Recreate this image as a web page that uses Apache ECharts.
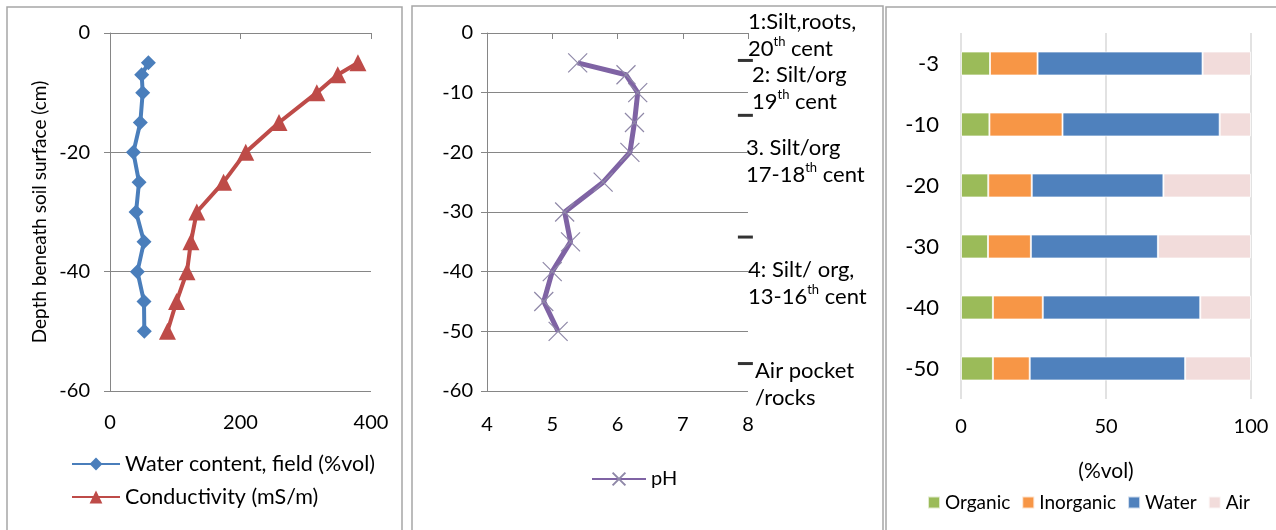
<!DOCTYPE html>
<html>
<head>
<meta charset="utf-8">
<script src="https://cdn.jsdelivr.net/npm/echarts@6/dist/echarts.min.js"></script>
<style>
  html, body { margin: 0; padding: 0; background: #fff; }
  #chart { width: 1276px; height: 530px; }
</style>
</head>
<body>
<div id="chart"></div>
<script>
// Soil profile measurements by depth (cm below surface)
const depths = [-5, -7, -10, -15, -20, -25, -30, -35, -40, -45, -50];
const waterContent = [58.8, 48.6, 50.1, 46.5, 35.8, 44.5, 39.9, 52.1, 42.0, 52.1, 52.6];
const conductivity = [380, 349, 317, 259, 208, 174, 133, 124, 118, 102, 88];
const pHValues = [5.39, 6.13, 6.31, 6.26, 6.19, 5.78, 5.19, 5.28, 5.00, 4.87, 5.09];

// Layer boundaries (cm) and layer descriptions
const layerBoundaries = [-4.6, -13.8, -34.2, -55.4];
const layerTexts = [
  '1:Silt,roots,\n20{s|th} cent',
  '2: Silt/org\n19{s|th} cent',
  '3. Silt/org\n17-18{s|th} cent',
  '4: Silt/ org,\n13-16{s|th} cent',
  'Air pocket\n/rocks'
];

// Volume composition of samples
const sampleDepths = ['-3', '-10', '-20', '-30', '-40', '-50'];
const organic = [10.0, 9.8, 9.4, 9.3, 11.0, 11.0];
const inorganic = [16.4, 25.2, 15.0, 14.8, 17.2, 12.7];
const water = [56.9, 54.2, 45.4, 43.8, 54.3, 53.6];
const air = [16.7, 10.8, 30.2, 32.1, 17.5, 22.7];

const FONT = 'Lato, "Open Sans", sans-serif';
const TXT = '#000';
const AXIS = '#868686';

const pairs = (xs) => xs.map((x, i) => [x, depths[i]]);

const chart = echarts.init(document.getElementById('chart'), null, { renderer: 'canvas' });

const depthAxis = (gridIndex, interval, margin) => ({
  type: 'value', gridIndex, min: -60, max: 0, interval,
  axisLine: { show: true, lineStyle: { color: AXIS, width: 1 } },
  axisTick: { show: true, inside: false, length: 6, lineStyle: { color: AXIS } },
  axisLabel: { color: TXT, fontFamily: FONT, fontSize: 20, margin },
  splitLine: { show: true, lineStyle: { color: AXIS, width: 1 } }
});

// Layer description texts beside the pH plot
const layerLeft = [748, 752, 746, 748, 755];
const layerTop = [8, 61, 134, 256, 357];
const graphics = [
  { type: 'rect', shape: { x: 7, y: 7, width: 395, height: 540 }, style: { fill: 'none', stroke: '#A6A6A6', lineWidth: 1.5 }, silent: true },
  { type: 'rect', shape: { x: 412, y: 6, width: 471, height: 540 }, style: { fill: 'none', stroke: '#A6A6A6', lineWidth: 1.5 }, silent: true },
  { type: 'rect', shape: { x: 886, y: 7, width: 400, height: 540 }, style: { fill: 'none', stroke: '#A6A6A6', lineWidth: 1.5 }, silent: true }
];
layerTexts.forEach((t, i) => {
  graphics.push({
    type: 'text', left: layerLeft[i], top: layerTop[i], silent: true,
    style: {
      text: t, fill: TXT, fontFamily: FONT, fontSize: 22, lineHeight: 27,
      rich: { s: { fontSize: 13, fontFamily: FONT, fill: TXT, verticalAlign: 'top', lineHeight: 20 } }
    }
  });
});

const option = {
  animation: false,
  backgroundColor: '#fff',
  textStyle: { fontFamily: FONT },
  grid: [
    { left: 110, top: 33, width: 261, height: 358 },
    { left: 487, top: 33, width: 261, height: 358 },
    { left: 961, top: 33, width: 290, height: 366 }
  ],
  xAxis: [
    {
      type: 'value', gridIndex: 0, min: 0, max: 400, interval: 200,
      axisLine: { show: true, lineStyle: { color: AXIS } },
      axisTick: { show: true, length: 6, lineStyle: { color: AXIS } },
      axisLabel: { color: TXT, fontFamily: FONT, fontSize: 20, margin: 22 },
      splitLine: { show: false }
    },
    {
      type: 'value', gridIndex: 1, min: 4, max: 8, interval: 1,
      axisLine: { show: true, lineStyle: { color: AXIS } },
      axisTick: { show: true, length: 6, lineStyle: { color: AXIS } },
      axisLabel: { color: TXT, fontFamily: FONT, fontSize: 20, margin: 24 },
      splitLine: { show: false }
    },
    {
      type: 'value', gridIndex: 2, min: 0, max: 100, interval: 50,
      name: '(%vol)', nameLocation: 'middle', nameGap: 62,
      nameTextStyle: { color: TXT, fontFamily: FONT, fontSize: 21 },
      axisLine: { show: false }, axisTick: { show: false },
      axisLabel: { color: TXT, fontFamily: FONT, fontSize: 20, margin: 18 },
      splitLine: { show: true, lineStyle: { color: '#D9D9D9', width: 1.5 } }
    }
  ],
  yAxis: [
    Object.assign(depthAxis(0, 20, 20), {
      name: 'Depth beneath soil surface (cm)', nameLocation: 'middle', nameGap: 61,
      nameTextStyle: { color: TXT, fontFamily: FONT, fontSize: 19 }
    }),
    depthAxis(1, 10, 14),
    {
      type: 'category', gridIndex: 2, data: sampleDepths, inverse: true,
      axisLine: { show: false }, axisTick: { show: false },
      axisLabel: { color: TXT, fontFamily: FONT, fontSize: 22, margin: 22 },
      splitLine: { show: false }
    }
  ],
  legend: [
    {
      orient: 'vertical', left: 66, top: 448, itemWidth: 48, itemHeight: 16, itemGap: 11,
      textStyle: { color: TXT, fontFamily: FONT, fontSize: 21.5 },
      data: ['Water content, field (%vol)', 'Conductivity (mS/m)']
    },
    {
      left: 586, top: 464, itemWidth: 54, itemHeight: 16,
      textStyle: { color: TXT, fontFamily: FONT, fontSize: 20 },
      data: ['pH']
    },
    {
      left: 922, top: 488, itemWidth: 12, itemHeight: 12, itemGap: 11, icon: 'rect',
      textStyle: { color: TXT, fontFamily: FONT, fontSize: 19 },
      data: ['Organic', 'Inorganic', 'Water', 'Air']
    }
  ],
  graphic: graphics,
  series: [
    {
      name: 'Water content, field (%vol)', type: 'line', xAxisIndex: 0, yAxisIndex: 0,
      data: pairs(waterContent), symbol: 'diamond', symbolSize: 15,
      lineStyle: { color: '#4A7EBB', width: 4 }, itemStyle: { color: '#4A7EBB' }
    },
    {
      name: 'Conductivity (mS/m)', type: 'line', xAxisIndex: 0, yAxisIndex: 0,
      data: pairs(conductivity), symbol: 'triangle', symbolSize: 17,
      lineStyle: { color: '#BE4B48', width: 4 }, itemStyle: { color: '#BE4B48' }
    },
    {
      name: 'pH', type: 'line', xAxisIndex: 1, yAxisIndex: 1,
      data: pairs(pHValues), symbol: 'path://M0,0L10,10M10,0L0,10', symbolSize: 19,
      lineStyle: { color: '#7F63A4', width: 5 },
      itemStyle: { color: 'rgba(0,0,0,0)', borderColor: '#8F88A8', borderWidth: 1.2 }
    },
    {
      name: 'boundaries', type: 'scatter', xAxisIndex: 1, yAxisIndex: 1,
      data: layerBoundaries.map(d => [7.96, d]), symbol: 'rect', symbolSize: [15, 3],
      itemStyle: { color: '#000' }, silent: true, z: 5
    },
    ...[['Organic', organic, '#9BBB59'], ['Inorganic', inorganic, '#F79646'],
        ['Water', water, '#4F81BD'], ['Air', air, '#F2DCDB']].map(([name, vals, color]) => ({
      name, type: 'bar', stack: 'vol', xAxisIndex: 2, yAxisIndex: 2, data: vals, barWidth: 24,
      itemStyle: { color, borderColor: 'rgba(255,255,255,0.7)', borderWidth: 1 }
    }))
  ]
};

chart.setOption(option);
</script>
</body>
</html>
